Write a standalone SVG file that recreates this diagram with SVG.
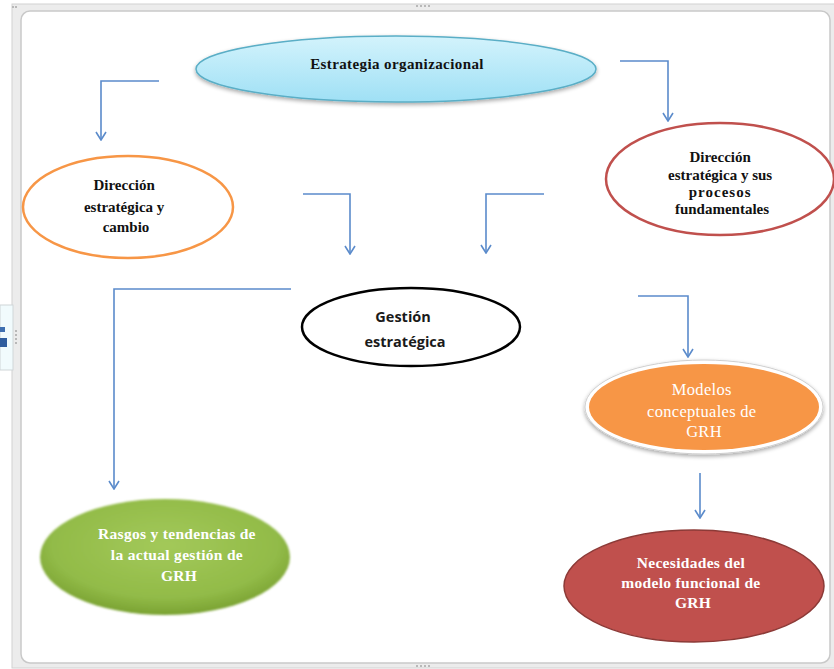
<svg xmlns="http://www.w3.org/2000/svg" width="834" height="669" viewBox="0 0 834 669">
  <defs>
    <linearGradient id="gCyan" x1="0" y1="0" x2="0" y2="1">
      <stop offset="0" stop-color="#d3f3fc"/>
      <stop offset="1" stop-color="#9fe0f5"/>
    </linearGradient>
    <radialGradient id="gGreen" cx="0.5" cy="0.4" r="0.6">
      <stop offset="0" stop-color="#a3c95a"/>
      <stop offset="0.75" stop-color="#92bb48"/>
      <stop offset="1" stop-color="#7aa232"/>
    </radialGradient>
    <filter id="soft" x="-10%" y="-10%" width="120%" height="130%">
      <feGaussianBlur in="SourceAlpha" stdDeviation="2"/>
      <feOffset dy="2" result="b"/>
      <feComponentTransfer><feFuncA type="linear" slope="0.35"/></feComponentTransfer>
      <feMerge><feMergeNode/><feMergeNode in="SourceGraphic"/></feMerge>
    </filter>
    <filter id="edge" x="-10%" y="-10%" width="120%" height="120%">
      <feGaussianBlur stdDeviation="1.2"/>
    </filter>
    <!-- open V arrowhead, drawn pointing along +x -->
    <marker id="vhead" viewBox="0 0 12 12" refX="11" refY="6" markerWidth="12" markerHeight="12" markerUnits="userSpaceOnUse" orient="auto">
      <path d="M3,1 L11,6 L3,11" fill="none" stroke="#5b8bcb" stroke-width="1.6"/>
    </marker>
  </defs>
  <style>
    .serif { font-family: "Liberation Serif", "Times New Roman", serif; }
    .sans { font-family: "Open Sans", "Liberation Sans", sans-serif; }
    .dark { fill: #111; font-weight: bold; font-size: 15px; }
    .light { fill: #ffffff; font-size: 15.5px; font-weight: bold; letter-spacing: 0.3px; }
    .light.thin { font-weight: normal; font-size: 16.5px; }
    .wire { fill: none; stroke: #5b8bcb; stroke-width: 1.6; marker-end: url(#vhead); }
  </style>

  <!-- canvas frame -->
  <rect x="0" y="0" width="834" height="669" fill="#ffffff"/>
  <rect x="12" y="4" width="826" height="664" fill="#ececec" stroke="#d2d2d2" stroke-width="1"/>
  <rect x="21" y="11" width="809" height="652" rx="9" fill="#ffffff" stroke="#c9c9c9" stroke-width="1.5"/>
  <g fill="#b8b8b8">
    <rect x="416" y="5" width="2" height="2"/><rect x="420" y="5" width="2" height="2"/>
    <rect x="424" y="5" width="2" height="2"/><rect x="428" y="5" width="2" height="2"/>
    <rect x="416" y="665" width="2" height="2"/><rect x="420" y="665" width="2" height="2"/>
    <rect x="424" y="665" width="2" height="2"/><rect x="428" y="665" width="2" height="2"/>
    <rect x="15" y="330" width="2" height="2"/><rect x="15" y="334" width="2" height="2"/>
    <rect x="15" y="338" width="2" height="2"/><rect x="15" y="342" width="2" height="2"/>
    <rect x="12" y="6" width="2" height="2"/><rect x="15" y="6" width="2" height="2"/>
  </g>
  <rect x="0" y="305" width="13" height="65" fill="#f1fbfd" stroke="#cfd6d8" stroke-width="1"/>
  <rect x="0" y="327" width="5" height="5" fill="#3f6fb0"/>
  <rect x="0" y="338" width="7" height="9" fill="#2f5d9e"/>

  <!-- connectors -->
  <g id="connectors">
    <path class="wire" d="M159,81 H101 V140"/>
    <path class="wire" d="M620,61 H668 V121"/>
    <path class="wire" d="M303,194 H350 V254"/>
    <path class="wire" d="M544,194 H486 V253"/>
    <path class="wire" d="M291,289 H114 V489"/>
    <path class="wire" d="M638,296 H688 V357"/>
    <path class="wire" d="M700,473 V518"/>
  </g>

  <!-- nodes -->
  <g id="estrategia-organizacional">
    <ellipse cx="396" cy="69" rx="200" ry="33" fill="url(#gCyan)" stroke="#5aaec6" stroke-width="1.5" filter="url(#soft)"/>
    <text class="serif dark" x="397" y="69" text-anchor="middle" font-size="16.5" letter-spacing="0.4">Estrategia organizacional</text>
  </g>

  <g id="direccion-cambio">
    <ellipse cx="128" cy="207" rx="105" ry="51" fill="#ffffff" stroke="#f79646" stroke-width="2.5"/>
    <text class="serif dark" text-anchor="middle">
      <tspan x="126" y="190">Dirección</tspan>
      <tspan x="126" y="212">estratégica  y</tspan>
      <tspan x="126" y="232">cambio</tspan>
    </text>
  </g>

  <g id="direccion-procesos">
    <ellipse cx="720" cy="179" rx="114" ry="56" fill="#ffffff" stroke="#c0504d" stroke-width="2.5"/>
    <text class="serif dark" text-anchor="middle">
      <tspan x="722" y="162">Dirección</tspan>
      <tspan x="722" y="180">estratégica  y sus</tspan>
      <tspan x="722" y="197" letter-spacing="1">procesos</tspan>
      <tspan x="722" y="214">fundamentales</tspan>
    </text>
  </g>

  <g id="gestion-estrategica">
    <ellipse cx="411" cy="327" rx="109" ry="39" fill="#ffffff" stroke="#000000" stroke-width="2.5"/>
    <text class="sans" fill="#1a1a1a" font-size="14.5" font-weight="bold" text-anchor="middle">
      <tspan x="405" y="322">Gestión</tspan>
      <tspan x="405" y="347">estratégica</tspan>
    </text>
  </g>

  <g id="modelos-conceptuales">
    <ellipse cx="704" cy="407" rx="119" ry="47" fill="#ffffff" stroke="#cfcfcf" stroke-width="1" filter="url(#soft)"/>
    <ellipse cx="704" cy="407" rx="115" ry="43" fill="#f79646"/>
    <text class="serif light thin" text-anchor="middle">
      <tspan x="704" y="395">Modelos</tspan>
      <tspan x="704" y="417">conceptuales de</tspan>
      <tspan x="704" y="437">GRH</tspan>
    </text>
  </g>

  <g id="rasgos-tendencias">
    <ellipse cx="165" cy="557" rx="125" ry="58" fill="url(#gGreen)" filter="url(#edge)"/>
    <text class="serif light" text-anchor="middle">
      <tspan x="179" y="539">Rasgos y tendencias de</tspan>
      <tspan x="179" y="560">la actual gestión de</tspan>
      <tspan x="179" y="581">GRH</tspan>
    </text>
  </g>

  <g id="necesidades-modelo">
    <ellipse cx="694" cy="586" rx="130" ry="56" fill="#c0504d" stroke="#8c3a37" stroke-width="1.5"/>
    <text class="serif light" text-anchor="middle">
      <tspan x="693" y="568">Necesidades del</tspan>
      <tspan x="693" y="588">modelo funcional de</tspan>
      <tspan x="693" y="608">GRH</tspan>
    </text>
  </g>
</svg>
